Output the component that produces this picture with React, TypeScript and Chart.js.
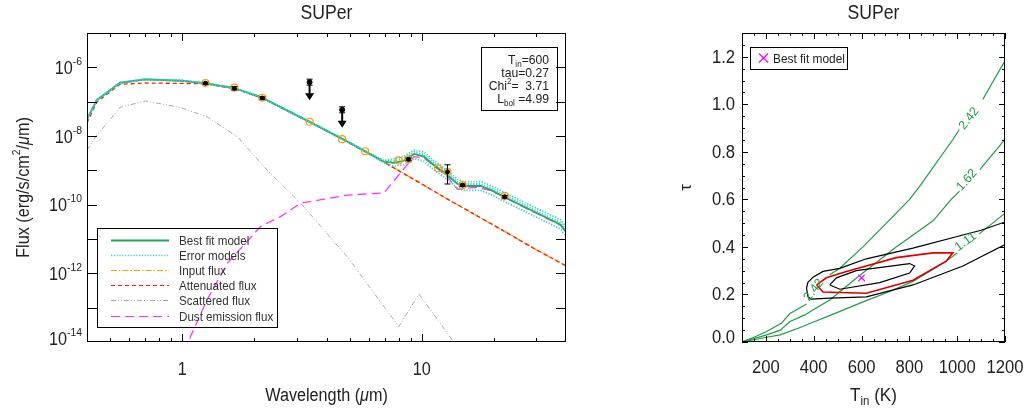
import React, { useEffect, useRef } from 'react';
import { Chart, registerables } from 'chart.js';

Chart.register(...registerables);

const FONT = "'Liberation Sans', Arial, Helvetica, sans-serif";

// ================= Left panel: SED =================
const fitLambda = [0.4, 0.44, 0.55, 0.7, 1.0, 1.25, 1.65, 2.16, 3.4, 4.7, 5.8, 6.95, 7.65, 8.4, 9.3, 10.2, 11.2, 12.8, 14.1, 15.0, 17.6, 19.4, 22.0, 28.5, 38.0, 40.0];
const bestFitFlux = [3.1e-8, 1.12e-7, 3.56e-7, 4.47e-7, 4.07e-7, 3.43e-7, 2.5e-7, 1.29e-7, 2.57e-8, 8.0e-9, 3.58e-9, 1.78e-9, 1.66e-9, 1.9e-9, 2.99e-9, 2.5e-9, 1.43e-9, 7.3e-10, 4.0e-10, 3.5e-10, 3.5e-10, 2.7e-10, 1.7e-10, 7.0e-11, 2.6e-11, 1.6e-11];
const errModelHighFlux = [3.2e-8, 1.15e-7, 3.6e-7, 4.52e-7, 4.12e-7, 3.47e-7, 2.53e-7, 1.31e-7, 2.62e-8, 8.2e-9, 3.7e-9, 1.9e-9, 2.2e-9, 2.55e-9, 3.9e-9, 3.4e-9, 1.95e-9, 1.0e-9, 5.4e-10, 4.7e-10, 4.7e-10, 3.6e-10, 2.3e-10, 9.5e-11, 3.6e-11, 2.25e-11];
const errModelMidFlux = [3.15e-8, 1.14e-7, 3.58e-7, 4.5e-7, 4.1e-7, 3.45e-7, 2.52e-7, 1.3e-7, 2.6e-8, 8.1e-9, 3.65e-9, 1.85e-9, 1.9e-9, 2.2e-9, 3.4e-9, 2.9e-9, 1.65e-9, 8.4e-10, 4.6e-10, 4.0e-10, 4.0e-10, 3.1e-10, 1.95e-10, 8.0e-11, 3.0e-11, 1.85e-11];
const errModelLowFlux = [3.0e-8, 1.09e-7, 3.5e-7, 4.4e-7, 4.0e-7, 3.38e-7, 2.46e-7, 1.27e-7, 2.52e-8, 7.8e-9, 3.45e-9, 1.68e-9, 1.3e-9, 1.45e-9, 2.2e-9, 1.85e-9, 1.05e-9, 5.4e-10, 3.0e-10, 2.6e-10, 2.6e-10, 2.0e-10, 1.27e-10, 5.2e-11, 1.95e-11, 1.2e-11];

const stellarLambda = [0.4, 0.44, 0.55, 0.7, 1.0, 1.25, 1.65, 2.16, 3.4, 4.7, 5.8, 6.95, 8.0, 10.0, 12.8, 20.0, 30.0, 40.0];
const inputFlux = [3.1e-8, 1.12e-7, 3.5e-7, 4.4e-7, 4.0e-7, 3.4e-7, 2.48e-7, 1.28e-7, 2.56e-8, 7.95e-9, 3.52e-9, 1.73e-9, 9.9e-10, 4.0e-10, 1.45e-10, 2.5e-11, 4.9e-12, 1.65e-12];
const attenuatedFlux = [2.4e-8, 9.8e-8, 3.2e-7, 3.5e-7, 3.4e-7, 3.3e-7, 2.4e-7, 1.27e-7, 2.55e-8, 7.9e-9, 3.5e-9, 1.72e-9, 9.8e-10, 4.0e-10, 1.45e-10, 2.5e-11, 4.9e-12, 1.65e-12];

const scatLambda = [0.4, 0.435, 0.55, 0.7, 0.98, 1.27, 1.7, 2.26, 3.12, 4.89, 8.02, 9.73, 13.6, 15.0];
const scatteredFlux = [3.9e-9, 9.5e-9, 6.8e-8, 1.05e-7, 6.8e-8, 3.6e-8, 9.5e-9, 1.02e-9, 1.1e-10, 3.0e-12, 2.8e-14, 2.5e-13, 1.0e-14, 4.0e-15];

const dustLambda = [1.05, 1.08, 1.27, 1.54, 2.12, 2.57, 3.12, 4.89, 6.95, 7.9, 9.27, 10.2, 12.8, 14.1, 16.8, 19.4, 22.0, 28.5, 38.0, 40.0];
const dustFlux = [5e-15, 1.4e-14, 1.7e-13, 1.95e-12, 2.3e-11, 4.5e-11, 1.1e-10, 1.9e-10, 2.2e-10, 6.5e-10, 2.5e-9, 2.3e-9, 6.5e-10, 2.8e-10, 3.2e-10, 2.6e-10, 1.65e-10, 6.8e-11, 2.5e-11, 1.55e-11];

const modelPhotLambda = [1.25, 1.65, 2.16, 3.4, 4.65, 5.8, 8.0, 8.8, 11.7, 12.8, 14.8, 22.2];
const modelPhotFlux = [3.5e-7, 2.55e-7, 1.3e-7, 2.6e-8, 8.1e-9, 3.6e-9, 1.95e-9, 2.1e-9, 1.15e-9, 9.1e-10, 3.7e-10, 1.8e-10];

const obsLambda = [1.25, 1.65, 2.16, 8.8, 12.8, 14.8, 22.2];
const obsFlux = [3.45e-7, 2.45e-7, 1.28e-7, 2.08e-9, 9.1e-10, 3.7e-10, 1.7e-10];
const obsErrLow = [3.2e-7, 2.2e-7, 1.18e-7, 1.9e-9, 4.0e-10, 3.4e-10, 1.55e-10];
const obsErrHigh = [3.7e-7, 2.75e-7, 1.38e-7, 2.28e-9, 1.45e-9, 4.0e-10, 1.85e-10];

const limLambda = [3.4, 4.65];
const limFlux = [3.7e-7, 5.8e-8];

const fluxTickExps = [-13, -12, -11, -10, -9, -8, -7, -6];
const fluxLabelExps = ['-14', '-12', '-10', '-8', '-6'];
const lambdaMajor = [1, 10];
const lambdaMajorLabels = ['1', '10'];
const lambdaMinor = [0.5, 0.6, 0.7, 0.8, 0.9, 2, 3, 4, 5, 6, 7, 8, 9, 20, 30];

const sedLegend = ['Best fit model', 'Error models', 'Input flux', 'Attenuated flux', 'Scattered flux', 'Dust emission flux'];

// ================= Right panel: chi2 map =================
const curveA_T = [100, 150, 203, 266, 301, 370, 420, 467, 509, 606, 704, 801, 843, 982, 1009, 1060, 1107, 1198];
const curveA_tau = [0, 0.02, 0.044, 0.08, 0.12, 0.16, null, 0.283, 0.31, 0.40, 0.50, 0.60, 0.655, 0.852, 0.894, null, 1.02, 1.18];
const curveB_T = [100, 203, 260, 301, 363, 405, 467, 592, 745, 899, 975, 1010, 1050, 1095, 1198];
const curveB_tau = [0, 0.03, 0.05, 0.086, 0.114, 0.14, 0.177, 0.28, 0.40, 0.51, 0.60, 0.635, null, 0.725, 0.85];
const curveC_T = [100, 203, 260, 335, 405, 474, 627, 700, 815, 954, 1000, 1045, 1092, 1198];
const curveC_tau = [0, 0.02, 0.03, 0.058, 0.086, 0.114, 0.177, 0.205, 0.255, 0.34, 0.375, null, 0.455, 0.54];

const outerT = [1200, 1100, 1024, 815, 620, 509, 439, 397, 375, 370, 376, 390, 467, 620, 815, 1024, 1200];
const outerTau = [0.505, 0.47, 0.45, 0.395, 0.35, 0.31, 0.297, 0.273, 0.25, 0.226, 0.19, 0.18, 0.185, 0.19, 0.24, 0.32, 0.41];
const redT = [412, 439, 620, 815, 954, 982, 899, 745, 537, 453, 412];
const redTau = [0.24, 0.21, 0.205, 0.26, 0.34, 0.375, 0.375, 0.355, 0.297, 0.27, 0.24];
const innerT = [467, 495, 578, 801, 822, 801, 676, 509, 467];
const innerTau = [0.24, 0.27, 0.30, 0.33, 0.32, 0.29, 0.25, 0.222, 0.24];

const bestT = [600];
const bestTau = [0.27];

const contourLabelText = ['2.42', '2.42', '1.62', '1.11'];
const contourLabelT = [412, 1061, 1051, 1044];
const contourLabelTau = [0.227, 0.948, 0.688, 0.427];
const contourLabelAngle = [-52, -52, -48, -36];

const tinMajor = [200, 400, 600, 800, 1000, 1200];
const tinLabels = ['200', '400', '600', '800', '1000', '1200'];
const tinMinor = [150, 250, 300, 350, 450, 500, 550, 650, 700, 750, 850, 900, 950, 1050, 1100, 1150];
const tauMajor = [0, 0.2, 0.4, 0.6, 0.8, 1.0, 1.2];
const tauLabels = ['0.0', '0.2', '0.4', '0.6', '0.8', '1.0', '1.2'];
const tauMinor = [0.05, 0.1, 0.15, 0.25, 0.3, 0.35, 0.45, 0.5, 0.55, 0.65, 0.7, 0.75, 0.85, 0.9, 0.95, 1.05, 1.1, 1.15, 1.25];

// ================= helpers =================
const pts = (xs: number[], ys: (number | null)[]) => xs.map((x, i) => ({ x, y: ys[i] }));

type Seg = { t: string; size: number; dy?: number; italic?: boolean };
function fontOf(s: Seg) {
  return `${s.italic ? 'italic ' : ''}${s.size}px ${FONT}`;
}
function rich(ctx: CanvasRenderingContext2D, segs: Seg[], x: number, y: number, align: string, color = '#222', sx = 1, rot = 0) {
  ctx.save();
  ctx.translate(x, y);
  if (rot) ctx.rotate(rot);
  ctx.scale(sx, 1);
  ctx.fillStyle = color;
  ctx.textBaseline = 'alphabetic';
  ctx.textAlign = 'left';
  let w = 0;
  for (const s of segs) {
    ctx.font = fontOf(s);
    w += ctx.measureText(s.t).width;
  }
  let cx = align === 'left' ? 0 : align === 'center' ? -w / 2 : -w;
  for (const s of segs) {
    ctx.font = fontOf(s);
    ctx.fillText(s.t, cx, s.dy || 0);
    cx += ctx.measureText(s.t).width;
  }
  ctx.restore();
}
function line(ctx: CanvasRenderingContext2D, x1: number, y1: number, x2: number, y2: number) {
  ctx.beginPath();
  ctx.moveTo(x1, y1);
  ctx.lineTo(x2, y2);
  ctx.stroke();
}

// ================= plugins =================
const sedDecor = {
  id: 'sedDecor',
  afterDatasetsDraw(chart: any) {
    const ctx: CanvasRenderingContext2D = chart.ctx;
    const xs = chart.scales.x;
    const ys = chart.scales.y;
    ctx.save();
    ctx.strokeStyle = '#000';
    ctx.fillStyle = '#000';
    ctx.lineWidth = 1;
    obsLambda.forEach((l, i) => {
      const x = xs.getPixelForValue(l);
      const y1 = ys.getPixelForValue(obsErrLow[i]);
      const y2 = ys.getPixelForValue(obsErrHigh[i]);
      line(ctx, x, y1, x, y2);
      line(ctx, x - 3, y1, x + 3, y1);
      line(ctx, x - 3, y2, x + 3, y2);
    });
    limLambda.forEach((l, i) => {
      const x = xs.getPixelForValue(l);
      const y = ys.getPixelForValue(limFlux[i]);
      line(ctx, x - 3, y - 3, x + 3, y - 3);
      line(ctx, x - 3, y + 3, x + 3, y + 3);
      ctx.lineWidth = 2;
      line(ctx, x, y, x, y + 12);
      ctx.lineWidth = 1;
      ctx.beginPath();
      ctx.moveTo(x - 4.5, y + 11);
      ctx.lineTo(x + 4.5, y + 11);
      ctx.lineTo(x, y + 18);
      ctx.closePath();
      ctx.fill();
    });
    ctx.restore();
  },
  afterDraw(chart: any) {
    const ctx: CanvasRenderingContext2D = chart.ctx;
    const { left, right, top, bottom } = chart.chartArea;
    const xs = chart.scales.x;
    const ys = chart.scales.y;
    ctx.save();
    ctx.strokeStyle = '#000';
    ctx.lineWidth = 1;
    ctx.strokeRect(left + 0.5, top + 0.5, right - left - 1, bottom - top - 1);
    fluxTickExps.forEach((e) => {
      const y = Math.round(ys.getPixelForValue(Math.pow(10, e))) + 0.5;
      line(ctx, left, y, left + 10, y);
      line(ctx, right - 10, y, right, y);
    });
    lambdaMajor.forEach((l) => {
      const x = Math.round(xs.getPixelForValue(l)) + 0.5;
      line(ctx, x, bottom, x, bottom - 8);
      line(ctx, x, top, x, top + 8);
    });
    lambdaMinor.forEach((l) => {
      const x = Math.round(xs.getPixelForValue(l)) + 0.5;
      line(ctx, x, bottom, x, bottom - 4);
      line(ctx, x, top, x, top + 4);
    });
    fluxLabelExps.forEach((e, i) => {
      const y = ys.getPixelForValue(Math.pow(10, Number(e))) - (i === 0 ? 4 : 0);
      rich(ctx, [{ t: '10', size: 18 }, { t: e, size: 11.5, dy: -9 }], left - 5, y + 6.5, 'right', '#222', 0.9);
    });
    lambdaMajor.forEach((l, i) => {
      rich(ctx, [{ t: lambdaMajorLabels[i], size: 18 }], xs.getPixelForValue(l), 375, 'center', '#222', 0.9);
    });
    const cx = (left + right) / 2;
    rich(ctx, [{ t: 'SUPer', size: 20 }], cx, 19, 'center', '#222', 0.88);
    rich(ctx, [{ t: 'Wavelength (', size: 18 }, { t: 'μ', size: 18, italic: true }, { t: 'm)', size: 18 }], cx, 401, 'center', '#222', 0.9);
    rich(
      ctx,
      [
        { t: 'Flux (erg/s/cm', size: 18 },
        { t: '2', size: 11.5, dy: -9 },
        { t: '/', size: 18 },
        { t: 'μ', size: 18, italic: true },
        { t: 'm)', size: 18 },
      ],
      29,
      (top + bottom) / 2,
      'center',
      '#222',
      0.9,
      -Math.PI / 2
    );
    // legend (transparent box, as in the original)
    const bx = left + 10;
    const by = bottom - 114;
    ctx.strokeStyle = '#000';
    ctx.lineWidth = 1;
    ctx.strokeRect(bx + 0.5, by + 0.5, 180, 99);
    const dsIdx = [0, 1, 4, 5, 6, 7];
    sedLegend.forEach((lab, i) => {
      const ds = chart.data.datasets[dsIdx[i]];
      const y = Math.round(by + 12 + i * 15.1) + 0.5;
      ctx.save();
      ctx.strokeStyle = ds.borderColor;
      ctx.lineWidth = i === 0 ? 2 : i === 1 ? 1.6 : 1.2;
      ctx.setLineDash(ds.borderDash || []);
      line(ctx, bx + 14, y, bx + 72, y);
      ctx.restore();
      rich(ctx, [{ t: lab, size: 13.5 }], bx + 82, y + 4.8, 'left', '#333', 0.86);
    });
    // parameter box
    const ix = right - 85;
    const iy = top + 14;
    ctx.strokeStyle = '#000';
    ctx.strokeRect(ix + 0.5, iy + 0.5, 76, 63);
    const tx = right - 17;
    rich(ctx, [{ t: 'T', size: 13.5 }, { t: 'in', size: 9, dy: 3 }, { t: '=600', size: 13.5 }], tx, iy + 17, 'right', '#222', 0.9);
    rich(ctx, [{ t: 'tau=0.27', size: 13.5 }], tx, iy + 30, 'right', '#222', 0.9);
    rich(ctx, [{ t: 'Chi', size: 13.5 }, { t: '2', size: 9, dy: -6 }, { t: '=  3.71', size: 13.5 }], tx, iy + 42.5, 'right', '#222', 0.9);
    rich(ctx, [{ t: 'L', size: 13.5 }, { t: 'bol', size: 9, dy: 3 }, { t: ' =4.99', size: 13.5 }], tx, iy + 55.5, 'right', '#222', 0.9);
    ctx.restore();
  },
};

const chiDecor = {
  id: 'chiDecor',
  afterDatasetsDraw(chart: any) {
    const ctx: CanvasRenderingContext2D = chart.ctx;
    const xs = chart.scales.x;
    const ys = chart.scales.y;
    contourLabelText.forEach((t, i) => {
      rich(
        ctx,
        [{ t, size: 12.5 }],
        xs.getPixelForValue(contourLabelT[i]),
        ys.getPixelForValue(contourLabelTau[i]) + 4,
        'center',
        '#1f9d45',
        1,
        (contourLabelAngle[i] * Math.PI) / 180
      );
    });
  },
  afterDraw(chart: any) {
    const ctx: CanvasRenderingContext2D = chart.ctx;
    const { left, right, top, bottom } = chart.chartArea;
    const xs = chart.scales.x;
    const ys = chart.scales.y;
    ctx.save();
    ctx.strokeStyle = '#000';
    ctx.lineWidth = 1;
    ctx.strokeRect(left + 0.5, top + 0.5, right - left - 1, bottom - top - 1);
    tinMajor.forEach((v) => {
      const x = Math.round(xs.getPixelForValue(v)) + 0.5;
      line(ctx, x, bottom, x, bottom - 6);
      line(ctx, x, top, x, top + 6);
    });
    tinMinor.forEach((v) => {
      const x = Math.round(xs.getPixelForValue(v)) + 0.5;
      line(ctx, x, bottom, x, bottom - 3);
      line(ctx, x, top, x, top + 3);
    });
    tauMajor.forEach((v) => {
      const y = Math.round(ys.getPixelForValue(v)) + 0.5;
      line(ctx, left, y, left + 6, y);
      line(ctx, right - 6, y, right, y);
    });
    tauMinor.forEach((v) => {
      const y = Math.round(ys.getPixelForValue(v)) + 0.5;
      line(ctx, left, y, left + 3, y);
      line(ctx, right - 3, y, right, y);
    });
    tinMajor.forEach((v, i) => {
      rich(ctx, [{ t: tinLabels[i], size: 17.5 }], xs.getPixelForValue(v), 373, 'center', '#222', 0.95);
    });
    tauMajor.forEach((v, i) => {
      const y = ys.getPixelForValue(v) - (i === 0 ? 5 : 0);
      rich(ctx, [{ t: tauLabels[i], size: 17.5 }], left - 7, y + 6, 'right', '#222', 0.95);
    });
    const cx = (left + right) / 2;
    rich(ctx, [{ t: 'SUPer', size: 20 }], cx, 19, 'center', '#222', 0.88);
    rich(ctx, [{ t: 'T', size: 18 }, { t: 'in', size: 12, dy: 4 }, { t: ' (K)', size: 18 }], cx, 401, 'center', '#222', 0.95);
    rich(ctx, [{ t: 'τ', size: 17 }], left - 51, (top + bottom) / 2, 'center', '#222', 1, -Math.PI / 2);
    // legend
    const bx = left + 8;
    const by = top + 14;
    ctx.strokeStyle = '#000';
    ctx.strokeRect(bx + 0.5, by + 0.5, 97, 22);
    ctx.strokeStyle = '#ff00ff';
    ctx.lineWidth = 1.3;
    const mx = bx + 13.5;
    const my = by + 11;
    line(ctx, mx - 4.5, my - 4.5, mx + 4.5, my + 4.5);
    line(ctx, mx - 4.5, my + 4.5, mx + 4.5, my - 4.5);
    rich(ctx, [{ t: 'Best fit model', size: 12.5 }], bx + 23, my + 4.5, 'left', '#222', 0.95);
    ctx.restore();
  },
};

const lineDs = (label: string, data: any[], color: string, width: number, dash: number[], order: number) => ({
  label,
  data,
  showLine: true,
  pointRadius: 0,
  borderColor: color,
  backgroundColor: color,
  borderWidth: width,
  borderDash: dash,
  tension: 0,
  fill: false,
  spanGaps: false,
  order,
});

function sedConfig(): any {
  return {
    type: 'scatter',
    data: {
      datasets: [
        lineDs('Best fit model', pts(fitLambda, bestFitFlux), '#22a85a', 1.8, [], 3),
        lineDs('Error models', pts(fitLambda, errModelHighFlux), '#33cccc', 1.8, [1.2, 1.6], 2),
        lineDs('Error models 2', pts(fitLambda, errModelMidFlux), '#33cccc', 1.8, [1.2, 1.6], 2),
        lineDs('Error models 3', pts(fitLambda, errModelLowFlux), '#33cccc', 1.8, [1.2, 1.6], 2),
        lineDs('Input flux', pts(stellarLambda, inputFlux), '#ff9900', 1.3, [6, 2, 1.5, 2], 6),
        lineDs('Attenuated flux', pts(stellarLambda, attenuatedFlux), '#ff2200', 1.3, [4, 3], 5),
        lineDs('Scattered flux', pts(scatLambda, scatteredFlux), '#a8a8a8', 1, [5, 2, 1, 2, 1, 2], 8),
        lineDs('Dust emission flux', pts(dustLambda, dustFlux), '#ff33ff', 1.3, [9, 5], 7),
        {
          label: 'Model photometry',
          data: pts(modelPhotLambda, modelPhotFlux),
          showLine: false,
          pointRadius: 3.5,
          pointBorderColor: '#ff9900',
          pointBackgroundColor: 'rgba(0,0,0,0)',
          pointBorderWidth: 1.2,
          order: 1,
        },
        {
          label: 'Observed',
          data: pts(obsLambda, obsFlux),
          showLine: false,
          pointRadius: 2,
          pointBorderColor: '#000',
          pointBackgroundColor: '#000',
          pointBorderWidth: 1,
          order: 0,
        },
        {
          label: 'Upper limits',
          data: pts(limLambda, limFlux),
          showLine: false,
          pointRadius: 2.5,
          pointBorderColor: '#000',
          pointBackgroundColor: '#000',
          pointBorderWidth: 1,
          order: 0,
        },
      ],
    },
    options: {
      animation: false,
      responsive: false,
      maintainAspectRatio: false,
      devicePixelRatio: 1,
      layout: { padding: { left: 0, right: 34, top: 33, bottom: 0 } },
      plugins: { legend: { display: false }, tooltip: { enabled: false }, title: { display: false } },
      scales: {
        x: {
          type: 'logarithmic',
          min: 0.4,
          max: 40,
          grid: { display: false },
          border: { display: false },
          ticks: { display: false },
          afterFit: (s: any) => {
            s.height = 68;
          },
        },
        y: {
          type: 'logarithmic',
          min: 1e-14,
          max: 1e-5,
          grid: { display: false },
          border: { display: false },
          ticks: { display: false },
          afterFit: (s: any) => {
            s.width = 87;
          },
        },
      },
    },
    plugins: [sedDecor],
  };
}

function chiConfig(): any {
  const green = '#1f9d45';
  return {
    type: 'scatter',
    data: {
      datasets: [
        lineDs('chi2 2.42', pts(curveA_T, curveA_tau), green, 1.2, [], 5),
        lineDs('chi2 1.62', pts(curveB_T, curveB_tau), green, 1.2, [], 5),
        lineDs('chi2 1.11', pts(curveC_T, curveC_tau), green, 1.2, [], 5),
        lineDs('outer', pts(outerT, outerTau), '#000', 1.2, [], 3),
        lineDs('inner', pts(innerT, innerTau), '#000', 1.2, [], 3),
        lineDs('red', pts(redT, redTau), '#dd0000', 1.6, [], 2),
        {
          label: 'Best fit model',
          data: pts(bestT, bestTau),
          showLine: false,
          pointStyle: 'crossRot',
          pointRadius: 4.5,
          pointBorderColor: '#ff00ff',
          pointBorderWidth: 1.3,
          order: 0,
        },
      ],
    },
    options: {
      animation: false,
      responsive: false,
      maintainAspectRatio: false,
      devicePixelRatio: 1,
      layout: { padding: { left: 0, right: 27, top: 33, bottom: 0 } },
      plugins: { legend: { display: false }, tooltip: { enabled: false }, title: { display: false } },
      scales: {
        x: {
          type: 'linear',
          min: 100,
          max: 1200,
          grid: { display: false },
          border: { display: false },
          ticks: { display: false },
          afterFit: (s: any) => {
            s.height = 68;
          },
        },
        y: {
          type: 'linear',
          min: 0,
          max: 1.3,
          grid: { display: false },
          border: { display: false },
          ticks: { display: false },
          afterFit: (s: any) => {
            s.width = 142;
          },
        },
      },
    },
    plugins: [chiDecor],
  };
}

export default function App() {
  const leftRef = useRef<HTMLCanvasElement>(null);
  const rightRef = useRef<HTMLCanvasElement>(null);
  useEffect(() => {
    document.body.style.margin = '0';
    const c1 = new Chart(leftRef.current as HTMLCanvasElement, sedConfig());
    const c2 = new Chart(rightRef.current as HTMLCanvasElement, chiConfig());
    return () => {
      c1.destroy();
      c2.destroy();
    };
  }, []);
  return (
    <div style={{ position: 'absolute', left: 0, top: 0, width: 1032, height: 410, background: '#fff' }}>
      <canvas ref={leftRef} width={600} height={410} style={{ position: 'absolute', left: 0, top: 0, width: 600, height: 410 }} />
      <canvas ref={rightRef} width={432} height={410} style={{ position: 'absolute', left: 600, top: 0, width: 432, height: 410 }} />
    </div>
  );
}
